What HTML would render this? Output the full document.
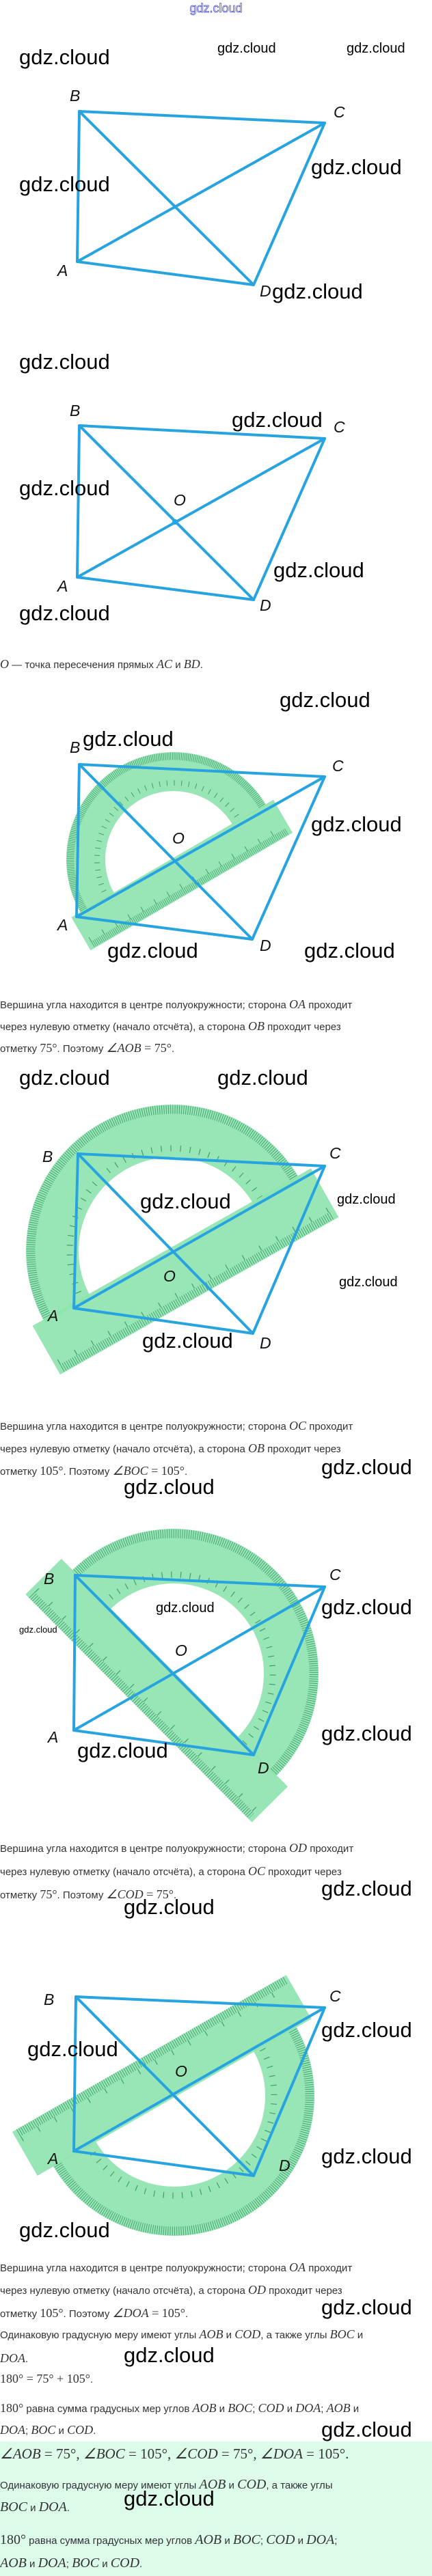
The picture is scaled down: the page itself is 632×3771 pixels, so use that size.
<!DOCTYPE html>
<html><head><meta charset="utf-8"><style>
html,body{margin:0;padding:0;background:#fff;}
svg{display:block;}
.wm{font-family:"Liberation Sans",sans-serif;fill:#000;}
.lb{font-family:"Liberation Sans Narrow","Liberation Sans",sans-serif;font-style:italic;font-size:23px;fill:#111;}
.t{font-family:"Liberation Sans",sans-serif;font-size:15px;fill:#333;}
.m{font-family:"Liberation Serif",serif;font-style:italic;font-size:18px;}
.n{font-family:"Liberation Serif",serif;font-style:normal;font-size:18px;}
.g{fill:#8fe4b0;opacity:.92;}
.tk{fill:none;stroke:#3f9e6c;}
.bl{stroke:#27a4e0;stroke-width:4;fill:none;stroke-linejoin:round;stroke-linecap:round;}
</style></head><body>
<svg width="632" height="3771" viewBox="0 0 632 3771" xmlns="http://www.w3.org/2000/svg">
<rect x="0" y="3574" width="632" height="197" fill="#dcfbe9"/>
<text x="316" y="18" text-anchor="middle" font-family="Liberation Sans,sans-serif" font-size="18" fill="none" stroke="#3a3ad0" stroke-width="0.7">gdz.cloud</text>

<!-- FIG 1 -->
<g class="bl"><path d="M116 163 L475 180 L371 417 L113 383 Z"/><path d="M116 163 L371 417 M113 383 L475 180"/></g>
<text class="lb" x="102" y="148">B</text><text class="lb" x="488" y="172">C</text>
<text class="lb" x="84" y="404">A</text><text class="lb" x="380" y="434">D</text>
<text class="wm" font-size="31" x="28" y="94">gdz.cloud</text>
<text class="wm" font-size="20" x="318" y="77">gdz.cloud</text>
<text class="wm" font-size="20" x="507" y="77">gdz.cloud</text>
<text class="wm" font-size="31" x="455" y="255">gdz.cloud</text>
<text class="wm" font-size="31" x="28" y="280">gdz.cloud</text>
<text class="wm" font-size="31" x="398" y="437">gdz.cloud</text>

<!-- FIG 2 -->
<g class="bl"><path d="M116 623 L475 642 L371 878 L113 845 Z"/><path d="M116 623 L371 878 M113 845 L475 642"/></g>
<circle cx="256" cy="764" r="4" fill="#27a4e0"/>
<text class="lb" x="102" y="609">B</text><text class="lb" x="488" y="633">C</text>
<text class="lb" x="254" y="740">O</text>
<text class="lb" x="84" y="866">A</text><text class="lb" x="380" y="894">D</text>
<text class="wm" font-size="31" x="28" y="540">gdz.cloud</text>
<text class="wm" font-size="31" x="339" y="625">gdz.cloud</text>
<text class="wm" font-size="31" x="28" y="725">gdz.cloud</text>
<text class="wm" font-size="31" x="400" y="845">gdz.cloud</text>
<text class="wm" font-size="31" x="28" y="908">gdz.cloud</text>
<text class="t" x="0" y="978"><tspan class="m">O</tspan> — точка пересечения прямых <tspan class="m">AC</tspan> и <tspan class="m">BD</tspan>.</text>

<!-- FIG 3 -->
<g transform="translate(254 1258) rotate(-30.2)">
<path class="g" d="M-157 0 A157 157 0 0 1 157 0 L100 0 A100 100 0 0 0 -100 0 Z"/>
<path class="tk" d="M-151 0 A151 151 0 0 1 151 0" stroke-width="11" stroke-dasharray="0.8 1.8"/>
<path class="tk" d="M-112 0 A112 112 0 0 1 112 0" stroke-width="8" stroke-dasharray="1 9.7"/>
<rect class="g" x="-172" y="-2" width="342" height="56"/>
<line class="tk" x1="-165" y1="48" x2="165" y2="48" stroke-width="10" stroke-dasharray="0.8 2"/>
<line class="tk" x1="-165" y1="40" x2="165" y2="40" stroke-width="8" stroke-dasharray="1 21"/>
</g>
<g class="bl"><path d="M116 1119 L475 1137 L369 1375 L112 1342 Z"/><path d="M116 1119 L369 1375 M112 1342 L475 1137"/></g>
<text class="lb" x="102" y="1102">B</text><text class="lb" x="486" y="1129">C</text>
<text class="lb" x="252" y="1235">O</text>
<text class="lb" x="84" y="1362">A</text><text class="lb" x="380" y="1392">D</text>
<text class="wm" font-size="31" x="409" y="1035">gdz.cloud</text>
<text class="wm" font-size="31" x="121" y="1092">gdz.cloud</text>
<text class="wm" font-size="31" x="455" y="1217">gdz.cloud</text>
<text class="wm" font-size="31" x="157" y="1402">gdz.cloud</text>
<text class="wm" font-size="31" x="445" y="1402">gdz.cloud</text>
<text class="t" x="0" y="1476">Вершина угла находится в центре полуокружности; сторона <tspan class="m">OA</tspan> проходит</text>
<text class="t" x="0" y="1508">через нулевую отметку (начало отсчёта), а сторона <tspan class="m">OB</tspan> проходит через</text>
<text class="t" x="0" y="1540">отметку <tspan class="n">75°</tspan>. Поэтому <tspan class="m">∠AOB</tspan><tspan class="n"> = 75°</tspan>.</text>
<text class="wm" font-size="31" x="28" y="1588">gdz.cloud</text>
<text class="wm" font-size="31" x="318" y="1588">gdz.cloud</text>

<!-- FIG 4 -->
<g transform="translate(252 1831) rotate(-29.5)">
<path class="g" d="M-214 0 A214 214 0 0 1 214 0 L137 0 A137 137 0 0 0 -137 0 Z"/>
<path class="tk" d="M-207 0 A207 207 0 0 1 207 0" stroke-width="13" stroke-dasharray="0.9 2.3"/>
<path class="tk" d="M-150 0 A150 150 0 0 1 150 0" stroke-width="9" stroke-dasharray="1.2 12.9"/>
<rect class="g" x="-232" y="-5" width="468" height="82"/>
<line class="tk" x1="-225" y1="70" x2="230" y2="70" stroke-width="12" stroke-dasharray="0.9 2.5"/>
<line class="tk" x1="-225" y1="60" x2="230" y2="60" stroke-width="8" stroke-dasharray="1.2 27"/>
</g>
<g class="bl"><path d="M114 1689 L475 1707 L370 1952 L108 1915 Z"/><path d="M114 1689 L370 1952 M108 1915 L475 1707"/></g>
<text class="lb" x="62" y="1701">B</text><text class="lb" x="482" y="1696">C</text>
<text class="lb" x="239" y="1876">O</text>
<text class="lb" x="70" y="1934">A</text><text class="lb" x="380" y="1974">D</text>
<text class="wm" font-size="31" x="205" y="1769">gdz.cloud</text>
<text class="wm" font-size="20" x="493" y="1762">gdz.cloud</text>
<text class="wm" font-size="20" x="496" y="1883">gdz.cloud</text>
<text class="wm" font-size="31" x="208" y="1973">gdz.cloud</text>
<text class="t" x="0" y="2093">Вершина угла находится в центре полуокружности; сторона <tspan class="m">OC</tspan> проходит</text>
<text class="t" x="0" y="2126">через нулевую отметку (начало отсчёта), а сторона <tspan class="m">OB</tspan> проходит через</text>
<text class="t" x="0" y="2159">отметку <tspan class="n">105°</tspan>. Поэтому <tspan class="m">∠BOC</tspan><tspan class="n"> = 105°</tspan>.</text>
<text class="wm" font-size="31" x="470" y="2158">gdz.cloud</text>
<text class="wm" font-size="31" x="181" y="2187">gdz.cloud</text>

<!-- FIG 5 -->
<g transform="translate(254 2450) rotate(45.2)">
<path class="g" d="M-212 0 A212 212 0 0 1 212 0 L132 0 A132 132 0 0 0 -132 0 Z"/>
<path class="tk" d="M-205 0 A205 205 0 0 1 205 0" stroke-width="13" stroke-dasharray="0.9 2.3"/>
<path class="tk" d="M-145 0 A145 145 0 0 1 145 0" stroke-width="9" stroke-dasharray="1.2 12.5"/>
<rect class="g" x="-235" y="-2" width="470" height="74"/>
<line class="tk" x1="-228" y1="66" x2="228" y2="66" stroke-width="12" stroke-dasharray="0.9 2.5"/>
<line class="tk" x1="-228" y1="56" x2="228" y2="56" stroke-width="8" stroke-dasharray="1.2 27"/>
</g>
<g class="bl"><path d="M110 2306 L475 2323 L371 2569 L108 2533 Z"/><path d="M110 2306 L371 2569 M108 2533 L475 2323"/></g>
<text class="lb" x="64" y="2319">B</text><text class="lb" x="482" y="2313">C</text>
<text class="lb" x="256" y="2424">O</text>
<text class="lb" x="70" y="2551">A</text><text class="lb" x="377" y="2596">D</text>
<text class="wm" font-size="20" x="228" y="2360">gdz.cloud</text>
<text class="wm" font-size="13" x="28" y="2390">gdz.cloud</text>
<text class="wm" font-size="31" x="470" y="2363">gdz.cloud</text>
<text class="wm" font-size="31" x="470" y="2548">gdz.cloud</text>
<text class="wm" font-size="31" x="113" y="2573">gdz.cloud</text>
<text class="t" x="0" y="2711">Вершина угла находится в центре полуокружности; сторона <tspan class="m">OD</tspan> проходит</text>
<text class="t" x="0" y="2745">через нулевую отметку (начало отсчёта), а сторона <tspan class="m">OC</tspan> проходит через</text>
<text class="t" x="0" y="2779">отметку <tspan class="n">75°</tspan>. Поэтому <tspan class="m">∠COD</tspan><tspan class="n"> = 75°</tspan>.</text>
<text class="wm" font-size="31" x="470" y="2775">gdz.cloud</text>
<text class="wm" font-size="31" x="181" y="2802">gdz.cloud</text>

<!-- FIG 6 -->
<g transform="translate(255 3068) rotate(-29.8)">
<path class="g" d="M-205 0 A205 205 0 0 0 205 0 L133 0 A133 133 0 0 1 -133 0 Z"/>
<path class="tk" d="M-198 0 A198 198 0 0 0 198 0" stroke-width="13" stroke-dasharray="0.9 2.3"/>
<path class="tk" d="M-146 0 A146 146 0 0 0 146 0" stroke-width="9" stroke-dasharray="1.2 12.5"/>
<rect class="g" x="-232" y="-72" width="462" height="74"/>
<line class="tk" x1="-225" y1="-66" x2="225" y2="-66" stroke-width="12" stroke-dasharray="0.9 2.5"/>
<line class="tk" x1="-225" y1="-56" x2="225" y2="-56" stroke-width="8" stroke-dasharray="1.2 27"/>
</g>
<g class="bl"><path d="M111 2923 L475 2939 L371 3185 L108 3149 Z"/><path d="M111 2923 L371 3185 M108 3149 L475 2939"/></g>
<text class="lb" x="64" y="2935">B</text><text class="lb" x="482" y="2930">C</text>
<text class="lb" x="256" y="3040">O</text>
<text class="lb" x="70" y="3168">A</text><text class="lb" x="408" y="3178">D</text>
<text class="wm" font-size="31" x="470" y="2982">gdz.cloud</text>
<text class="wm" font-size="31" x="40" y="3010">gdz.cloud</text>
<text class="wm" font-size="31" x="470" y="3167">gdz.cloud</text>
<text class="wm" font-size="31" x="28" y="3275">gdz.cloud</text>

<text class="t" x="0" y="3325">Вершина угла находится в центре полуокружности; сторона <tspan class="m">OA</tspan> проходит</text>
<text class="t" x="0" y="3358">через нулевую отметку (начало отсчёта), а сторона <tspan class="m">OD</tspan> проходит через</text>
<text class="t" x="0" y="3392">отметку <tspan class="n">105°</tspan>. Поэтому <tspan class="m">∠DOA</tspan><tspan class="n"> = 105°</tspan>.</text>
<text class="wm" font-size="31" x="470" y="3388">gdz.cloud</text>
<text class="t" x="0" y="3423">Одинаковую градусную меру имеют углы <tspan class="m">AOB</tspan> и <tspan class="m">COD</tspan>, а также углы <tspan class="m">BOC</tspan> и</text>
<text class="t" x="0" y="3458"><tspan class="m">DOA</tspan>.</text>
<text class="wm" font-size="31" x="181" y="3458">gdz.cloud</text>
<text class="t" x="0" y="3488"><tspan class="n">180° = 75° + 105°</tspan>.</text>
<text class="t" x="0" y="3531"><tspan class="n">180°</tspan> равна сумма градусных мер углов <tspan class="m">AOB</tspan> и <tspan class="m">BOC</tspan>; <tspan class="m">COD</tspan> и <tspan class="m">DOA</tspan>; <tspan class="m">AOB</tspan> и</text>
<text class="t" x="0" y="3563"><tspan class="m">DOA</tspan>; <tspan class="m">BOC</tspan> и <tspan class="m">COD</tspan>.</text>
<text class="wm" font-size="31" x="470" y="3567">gdz.cloud</text>

<text class="t" x="0" y="3599" style="font-size:20px"><tspan class="m" style="font-size:21px">∠AOB</tspan><tspan class="n" style="font-size:21px"> = 75°, </tspan><tspan class="m" style="font-size:21px">∠BOC</tspan><tspan class="n" style="font-size:21px"> = 105°, </tspan><tspan class="m" style="font-size:21px">∠COD</tspan><tspan class="n" style="font-size:21px"> = 75°, </tspan><tspan class="m" style="font-size:21px">∠DOA</tspan><tspan class="n" style="font-size:21px"> = 105°.</tspan></text>
<text class="t" x="0" y="3643">Одинаковую градусную меру имеют углы <tspan class="m" style="font-size:20px">AOB</tspan> и <tspan class="m" style="font-size:20px">COD</tspan>, а также углы</text>
<text class="t" x="0" y="3676"><tspan class="m" style="font-size:20px">BOC</tspan> и <tspan class="m" style="font-size:20px">DOA</tspan>.</text>
<text class="wm" font-size="31" x="181" y="3668">gdz.cloud</text>
<text class="t" x="0" y="3724"><tspan class="n" style="font-size:20px">180°</tspan> равна сумма градусных мер углов <tspan class="m" style="font-size:20px">AOB</tspan> и <tspan class="m" style="font-size:20px">BOC</tspan>; <tspan class="m" style="font-size:20px">COD</tspan> и <tspan class="m" style="font-size:20px">DOA</tspan>;</text>
<text class="t" x="0" y="3758"><tspan class="m" style="font-size:20px">AOB</tspan> и <tspan class="m" style="font-size:20px">DOA</tspan>; <tspan class="m" style="font-size:20px">BOC</tspan> и <tspan class="m" style="font-size:20px">COD</tspan>.</text>
</svg>
</body></html>
